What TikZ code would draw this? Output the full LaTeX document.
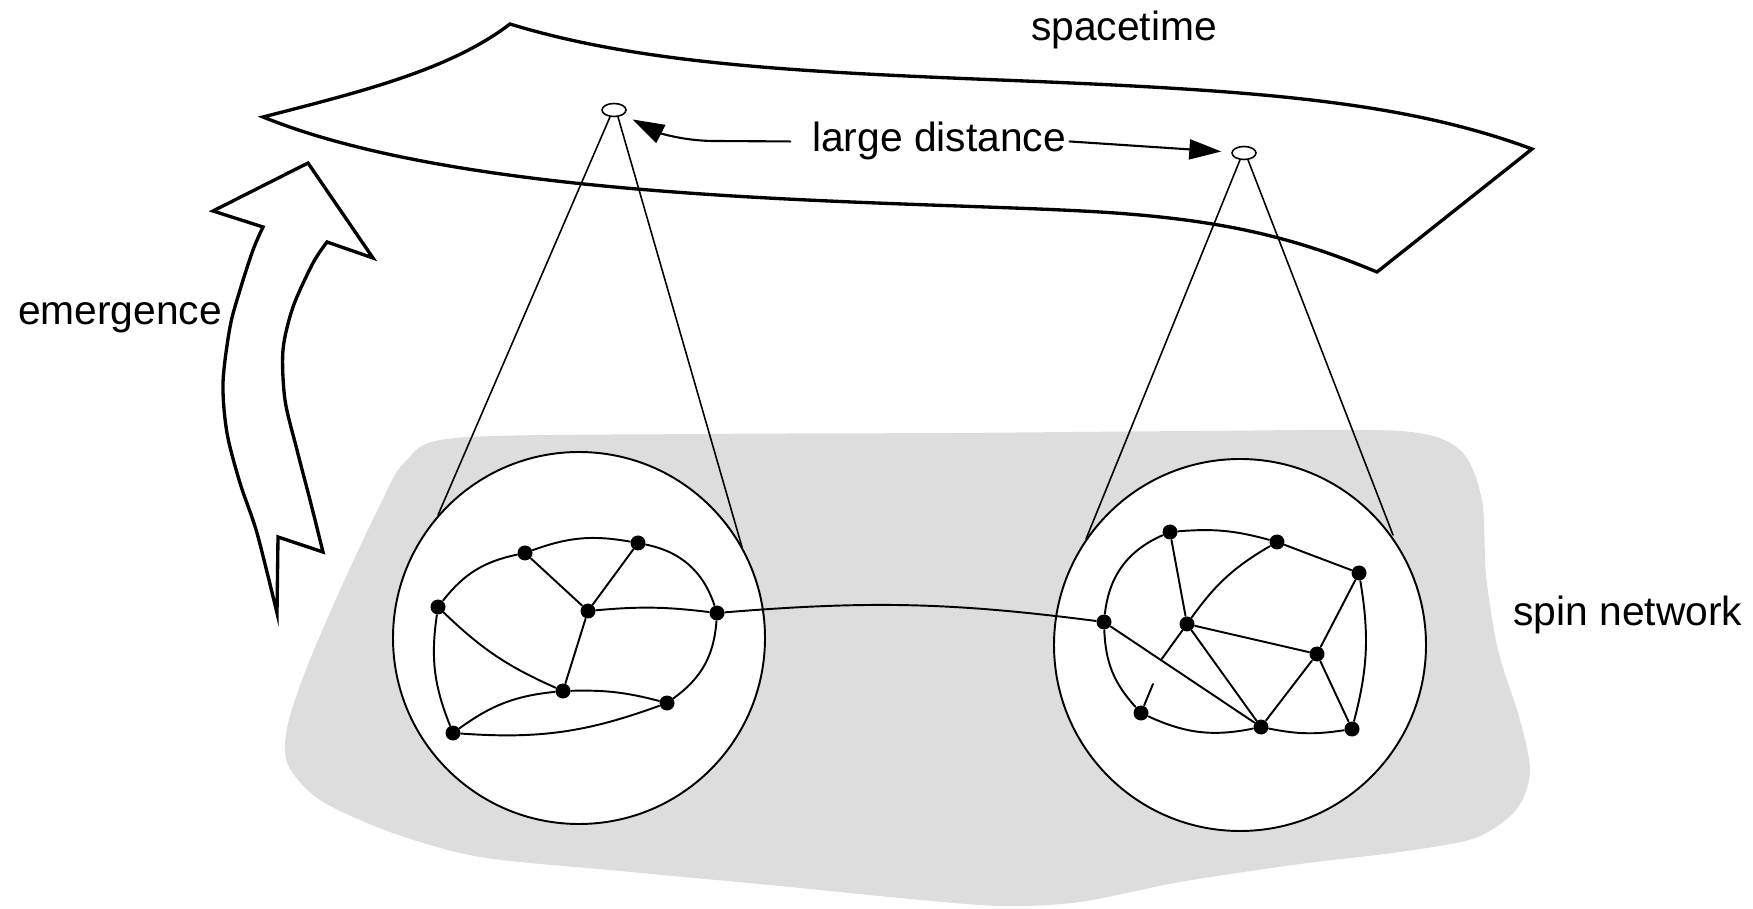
\documentclass[tikz,border=0pt]{standalone}
\usepackage{fontspec}
\setmainfont{Liberation Sans}
\usetikzlibrary{shapes.geometric,arrows.meta}
\definecolor{blobgray}{RGB}{221,221,221}

\begin{document}
\begin{tikzpicture}[x=0.1mm,y=-0.1mm,line cap=round,
  font=\fontsize{11.6}{14}\selectfont,
  vtx/.style={circle,fill,inner sep=0pt,minimum size=1.5mm},
  lens/.style={circle,draw,fill=white,inner sep=0pt,minimum size=37.2mm,line width=0.55pt},
  spot/.style={ellipse,draw,fill=white,inner sep=0pt,minimum width=2.4mm,minimum height=1.3mm,line width=0.45pt},
  link/.style={line width=0.55pt},
  cone/.style={line width=0.45pt},
  rim/.style={line width=0.95pt},
  arr/.style={line width=0.6pt,-{Triangle[length=3.2mm,width=2mm]}}]
\useasboundingbox (0,0) rectangle (1753,909);

% grey region under the network
\fill[blobgray] plot[smooth cycle] coordinates {(455,438) (700,434) (950,433) (1200,431) (1400,431)
  (1460,450) (1482,500) (1486,575) (1498,650) (1520,720) (1530,772) (1516,810) (1475,838)
  (1400,852) (1300,864) (1180,882) (1080,902) (1000,906) (900,898) (780,886) (620,871)
  (480,857) (390,832) (320,800) (288,765) (287,728) (305,672) (340,590) (380,505) (405,462)};

% spacetime sheet
\draw[rim] (510,24) .. controls (640,64) and (800,72) .. (1000,80)
  .. controls (1250,90) and (1400,100) .. (1532,149)
  -- (1377,272)
  .. controls (1300,240) and (1230,220) .. (1100,212)
  .. controls (900,200) and (480,205) .. (263,117)
  .. controls (360,92) and (450,70) .. (510,24) -- cycle;

\node[spot] (pa) at (614,110) {};
\node[spot] (pb) at (1244,153) {};

% cones down to the two magnified regions
\draw[cone] (pa.240) -- (438,515);
\draw[cone] (pa.300) -- (742,547);
\draw[cone] (pb.240) -- (1086,539);
\draw[cone] (pb.300) -- (1393,535);

\node[lens] (ca) at (579,638) {};
\node[lens] (cb) at (1240,645) {};

% left network
\node[vtx] (a1) at (438,607) {};
\node[vtx] (a2) at (525,553) {};
\node[vtx] (a3) at (638,543) {};
\node[vtx] (a4) at (588,611) {};
\node[vtx] (a5) at (717,613) {};
\node[vtx] (a6) at (563,691) {};
\node[vtx] (a7) at (667,703) {};
\node[vtx] (a8) at (453,733) {};

\draw[link] (a1) to[bend left=20] (a2);
\draw[link] (a2) to[bend left=15] (a3);
\draw[link] (a3) to[bend left=30] (a5);
\draw[link] (a2) -- (a4);
\draw[link] (a3) -- (a4);
\draw[link] (a4) to[bend left=6] (a5);
\draw[link] (a1) to[bend right=10] (a6);
\draw[link] (a4) -- (a6);
\draw[link] (a1) to[bend right=15] (a8);
\draw[link] (a8) to[bend left=15] (a6);
\draw[link] (a6) to[bend left=8] (a7);
\draw[link] (a8) to[bend right=12] (a7);
\draw[link] (a5) to[bend left=25] (a7);

% right network
\node[vtx] (b1) at (1170,532) {};
\node[vtx] (b2) at (1277,542) {};
\node[vtx] (b3) at (1359,573) {};
\node[vtx] (b4) at (1104,622) {};
\node[vtx] (b5) at (1187,624) {};
\node[vtx] (b6) at (1317,654) {};
\node[vtx] (b7) at (1141,713) {};
\node[vtx] (b8) at (1261,727) {};
\node[vtx] (b9) at (1352,729) {};
\coordinate (g1) at (1161,660);
\coordinate (g2) at (1153,684);

\draw[link] (b4) to[bend left=30] (b1);
\draw[link] (b1) to[bend left=10] (b2);
\draw[link] (b2) -- (b3);
\draw[link] (b1) -- (b5);
\draw[link] (b5) to[bend left=12] (b2);
\draw[link] (b3) -- (b6);
\draw[link] (b3) to[bend left=12] (b9);
\draw[link] (b5) -- (b6);
\draw[link] (b5) -- (b8);
\draw[link] (b6) -- (b8);
\draw[link] (b6) -- (b9);
\draw[link] (b4) -- (b8);
\draw[link] (b4) to[bend right=20] (b7);
\draw[link] (b7) to[bend right=18] (b8);
\draw[link] (b8) to[bend right=10] (b9);
\draw[link] (b5) -- (g1);
\draw[link] (b7) -- (g2);

% link between the two regions
\draw[link] (a5) to[bend left=6] (b4);

% labels
\node[anchor=base] (st) at (1124,41) {spacetime};
\node[anchor=base,inner sep=0.3mm] (ld) at (939,152) {large distance};
\node[anchor=base] (sn) at (1628,625) {spin network};
\node[anchor=base] (em) at (120,325) {emergence};

\draw[arr,shorten >=1mm] ([xshift=-1.8mm]ld.west) -- (715,141) .. controls (680,141) and (655,131) .. (pa);
\draw[arr,shorten >=1mm] (ld.east) -- (pb);

% emergence arrow
\draw[rim,fill=white] (277,613) -- (278,537) -- (323,552)
  -- plot[smooth] coordinates {(323,552) (310,500) (297,450) (285,400) (283,350) (293,307) (313,263) (327,242)}
  -- (373,258) -- (308,163) -- (213,211) -- (263,227)
  -- plot[smooth] coordinates {(263,227) (253,250) (240,290) (230,327) (223,383) (227,433) (240,483) (257,533) (277,613)}
  -- cycle;
\end{tikzpicture}
\end{document}
